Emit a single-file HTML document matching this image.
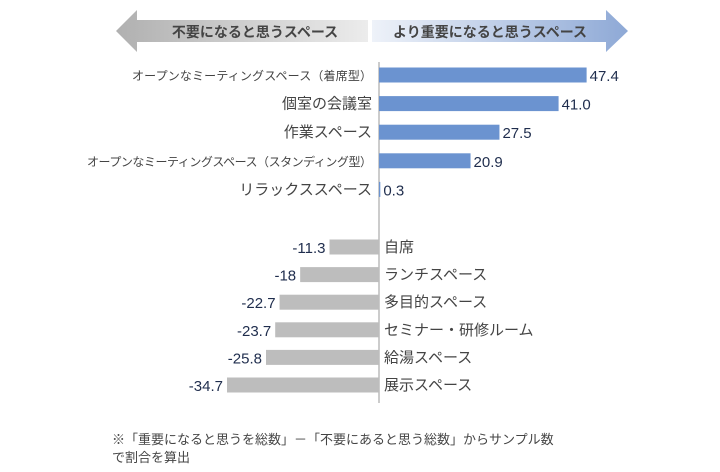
<!DOCTYPE html>
<html><head><meta charset="utf-8"><style>
body{margin:0;background:#fff;font-family:"Liberation Sans","Noto Sans CJK JP",sans-serif;}
#c{position:relative;width:720px;height:472px;overflow:hidden}
</style></head><body>
<div id="c">
<svg id="s" width="720" height="472">
<defs>
<linearGradient id="gg" x1="0" x2="1"><stop offset="0" stop-color="#b0b0b0"/><stop offset="1" stop-color="#ececec"/></linearGradient>
<linearGradient id="bg" x1="0" x2="1"><stop offset="0" stop-color="#eef2f9"/><stop offset="1" stop-color="#8ea9d6"/></linearGradient>
</defs>
<polygon fill="url(#gg)" points="116,31 137,10 137,20 368,20 368,42 137,42 137,52"/>
<polygon fill="url(#bg)" points="372,20 606,20 606,10 628,31 606,52 606,42 372,42"/>
<text x="255" y="37" font-size="14" font-weight="bold" fill="#444" text-anchor="middle">不要になると思うスペース</text>
<text x="490" y="37" font-size="14" font-weight="bold" fill="#444" text-anchor="middle">より重要になると思うスペース</text>
<line x1="379" y1="62" x2="379" y2="403" stroke="#999" stroke-width="1"/>
<g id="bars"></g>
<text x="112" y="444" font-size="13" fill="#444">※「重要になると思うを総数」－「不要にあると思う総数」からサンプル数</text>
<text x="112" y="462" font-size="13" fill="#444">で割合を算出</text>
</svg>
</div>
<script>
const posCategories=["オープンなミーティングスペース（着席型）","個室の会議室","作業スペース","オープンなミーティングスペース（スタンディング型）","リラックススペース"];
const posValues=[47.4,41.0,27.5,20.9,0.3];
const posLabels=["47.4","41.0","27.5","20.9","0.3"];
const negCategories=["自席","ランチスペース","多目的スペース","セミナー・研修ルーム","給湯スペース","展示スペース"];
const negValues=[-11.3,-18,-22.7,-23.7,-25.8,-34.7];
const negLabels=["-11.3","-18","-22.7","-23.7","-25.8","-34.7"];
const NS="http://www.w3.org/2000/svg";
const g=document.getElementById('bars');
const x0=379,k=4.38;
const xs=v=>x0+v*k;
function mk(t,a){const e=document.createElementNS(NS,t);for(const n in a)e.setAttribute(n,a[n]);g.appendChild(e);return e;}
posValues.forEach((v,i)=>{
 const cy=75+i*28.6;
 const r=mk('rect',{x:x0,y:cy-7.5,width:Math.max(1,xs(v)-x0),height:15,fill:'#6b93d0'});
 
 
 const t=mk('text',{x:xs(v)+3,y:cy+6,'font-size':15,fill:'#1f2d4d'});t.textContent=posLabels[i];
 
 
 const small=posCategories[i].length>12;
 const c=mk('text',{x:372,y:cy+5,'font-size':small?12:15,fill:'#444','text-anchor':'end'});c.textContent=posCategories[i];
 if(small)c.setAttribute('textLength',i==0?240:285);
 
 
});
negValues.forEach((v,i)=>{
 const cy=247+i*27.6;
 const r=mk('rect',{x:xs(v),y:cy-7.5,width:x0-xs(v),height:15,fill:'#bdbdbd'});
 
 
 const t=mk('text',{x:xs(v)-4,y:cy+6,'font-size':15,fill:'#1f2d4d','text-anchor':'end'});t.textContent=negLabels[i];
 
 
 const c=mk('text',{x:384,y:cy+5,'font-size':15,fill:'#444'});c.textContent=negCategories[i];
 
 
});
</script>
</body></html>
